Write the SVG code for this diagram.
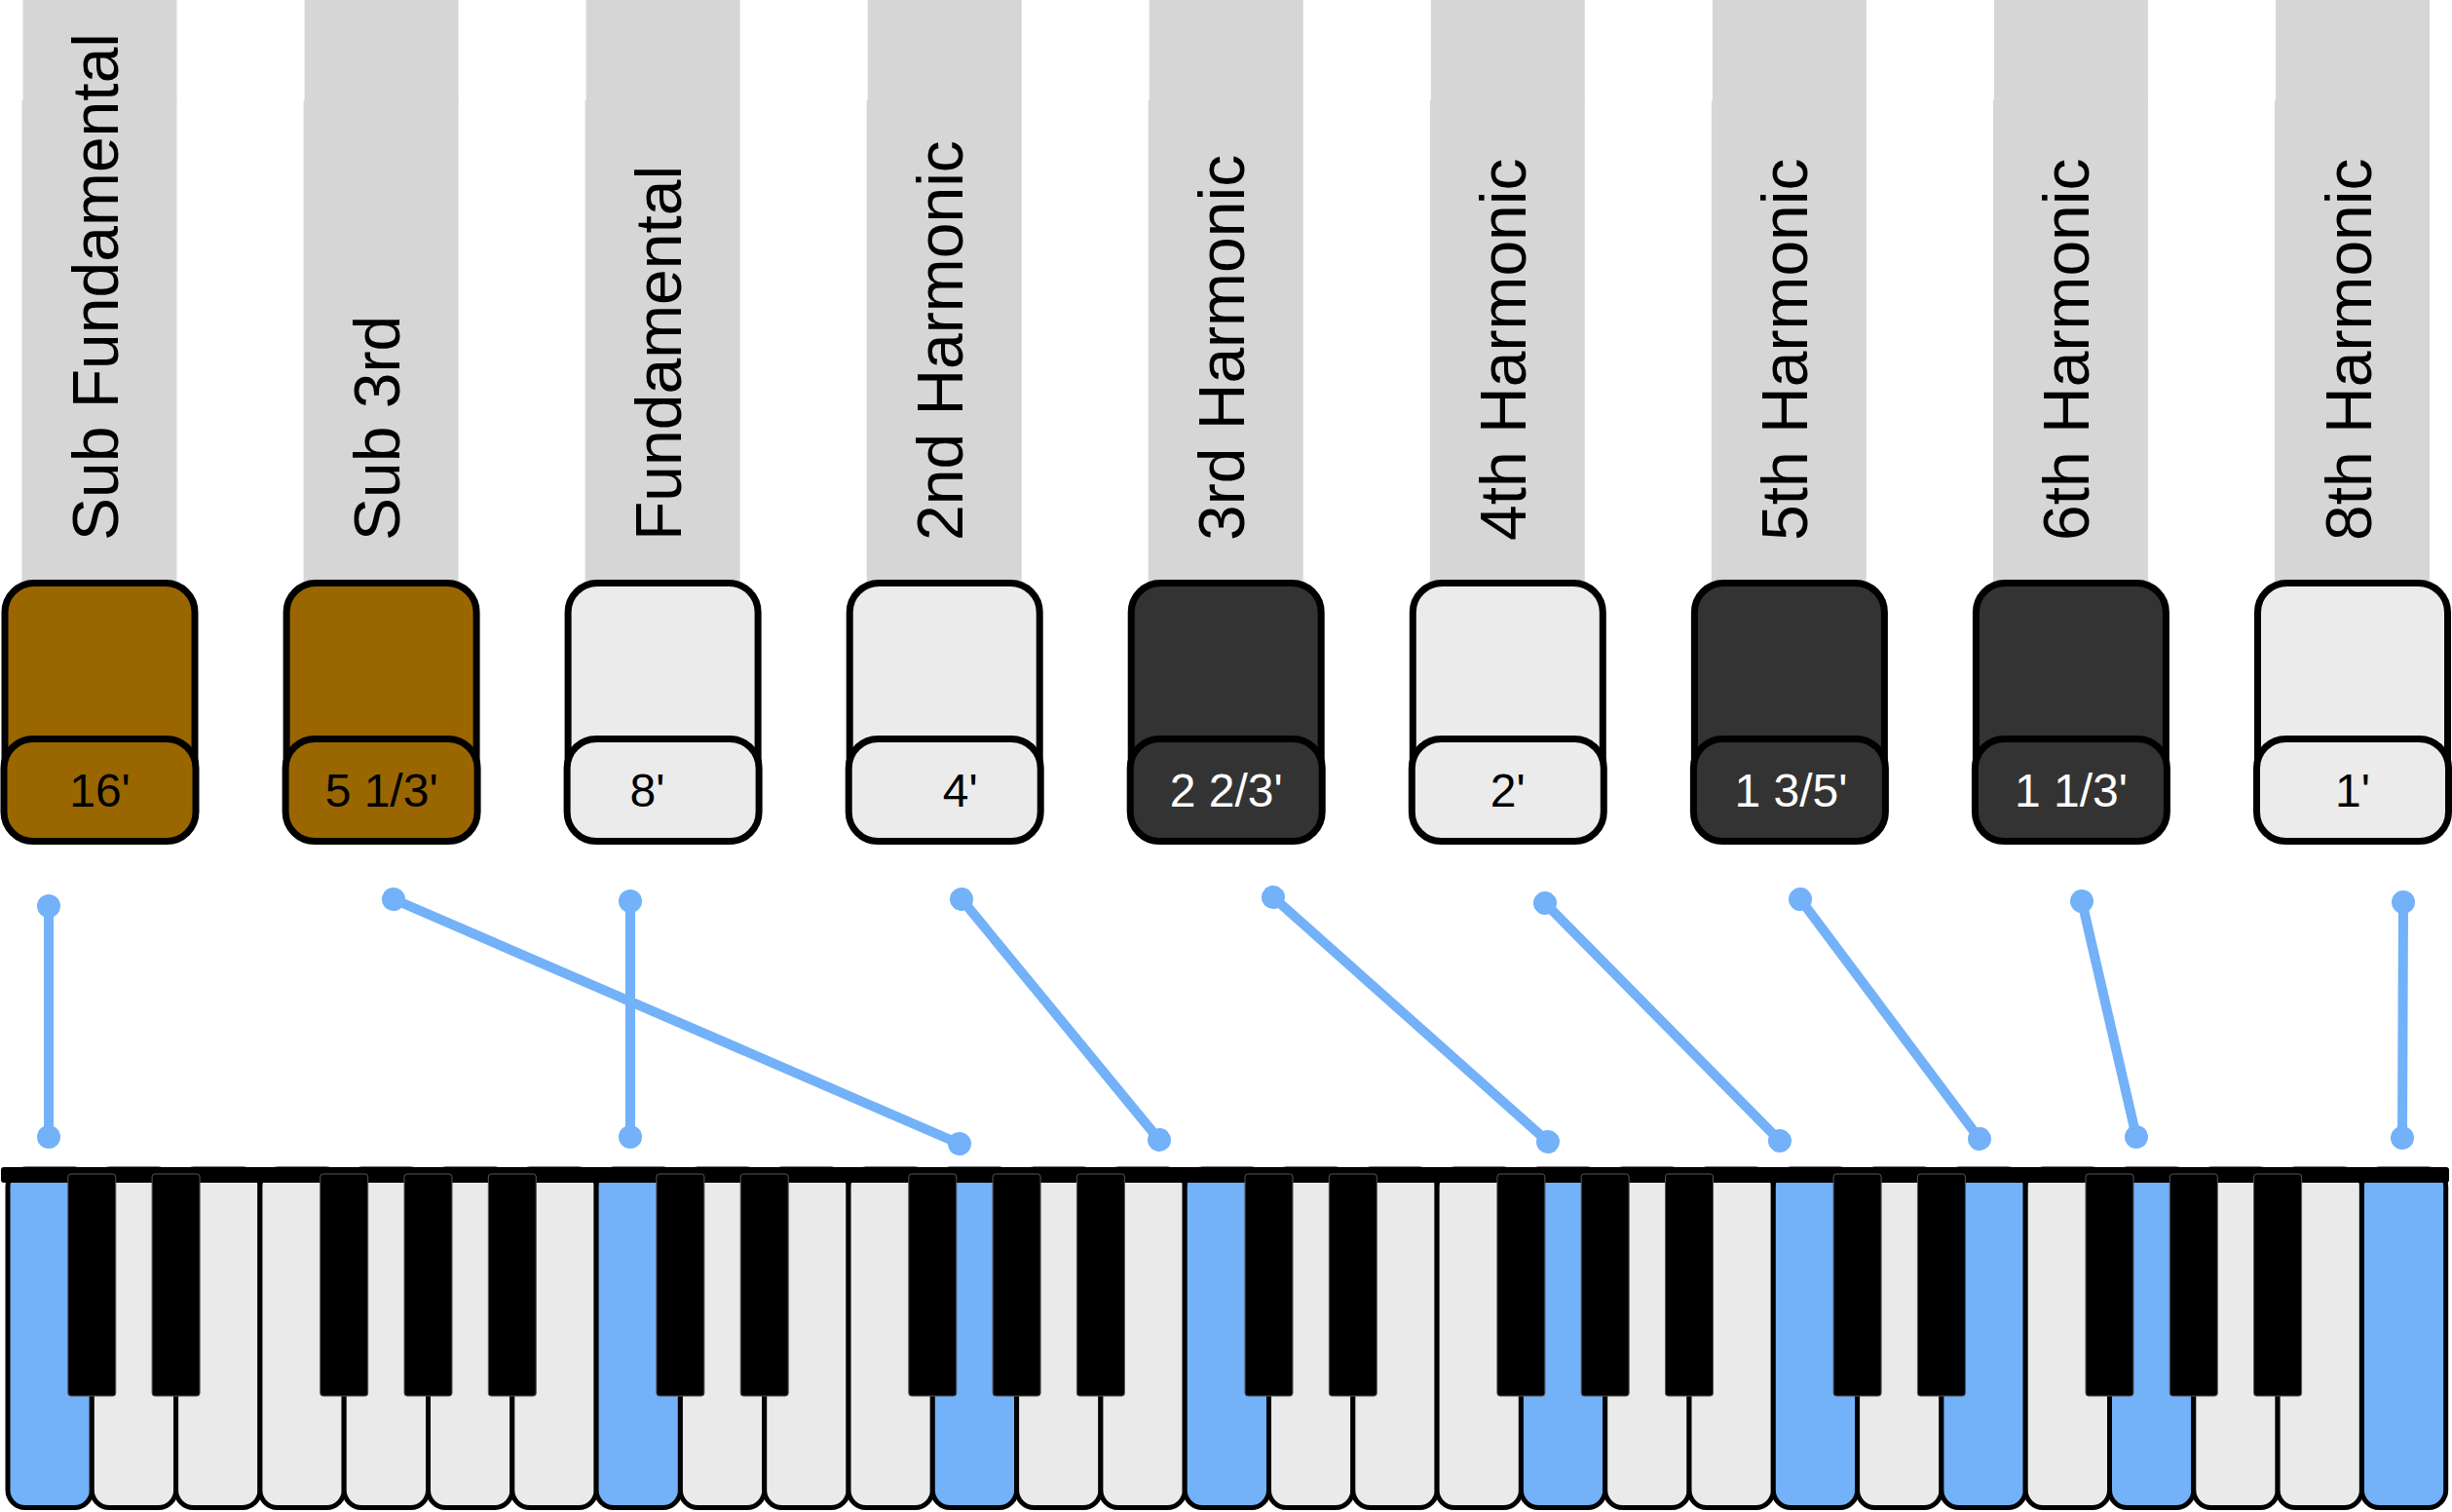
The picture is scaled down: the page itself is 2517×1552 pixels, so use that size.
<svg xmlns="http://www.w3.org/2000/svg" width="2517" height="1552" viewBox="0 0 2517 1552">
<defs>
<style>
.shaft{fill:#D6D6D6}
.box{stroke:#000;stroke-width:7}
.brown{fill:#996600}
.light{fill:#EBEBEB}
.dark{fill:#333333}
.name{font-family:"Liberation Sans",Arial,sans-serif;font-size:66px;fill:#000}
.val{font-family:"Liberation Sans",Arial,sans-serif;font-size:48px;text-anchor:middle;fill:#000}
.val.w{fill:#FFF}
.conn{stroke:#73B1F9;stroke-width:10;fill:none;marker-start:url(#dot);marker-end:url(#dot)}
.wk{stroke:#000;stroke-width:5;fill:#EAEAEA}
.wk.on{fill:#73B1F9}
.bk{fill:#000;stroke:#555;stroke-width:1}
</style>
<marker id="dot" viewBox="-12 -12 24 24" markerWidth="24" markerHeight="24" markerUnits="userSpaceOnUse" refX="0" refY="0" orient="auto">
<circle r="12" fill="#73B1F9"/>
</marker>
</defs>
<rect width="2517" height="1552" fill="#FFF"/>

<g id="drawbar-16">
<rect class="shaft" x="23.5" y="0" width="158" height="104"/>
<rect class="shaft" x="22.5" y="103" width="159" height="497"/>
<text class="name" transform="translate(121,555) rotate(-90)">Sub Fundamental</text>
<rect class="box brown" x="5" y="598.5" width="195" height="230" rx="30"/>
<rect class="box brown" x="4" y="758.5" width="197" height="105" rx="30"/>
<text class="val" x="102.5" y="828">16'</text>
</g>

<g id="drawbar-5-1-3">
<rect class="shaft" x="312.6" y="0" width="158" height="104"/>
<rect class="shaft" x="311.6" y="103" width="159" height="497"/>
<text class="name" transform="translate(410.1,555) rotate(-90)">Sub 3rd</text>
<rect class="box brown" x="294.1" y="598.5" width="195" height="230" rx="30"/>
<rect class="box brown" x="293.1" y="758.5" width="197" height="105" rx="30"/>
<text class="val" x="391.6" y="828">5 1/3'</text>
</g>

<g id="drawbar-8">
<rect class="shaft" x="601.6" y="0" width="158" height="104"/>
<rect class="shaft" x="600.6" y="103" width="159" height="497"/>
<text class="name" transform="translate(699.1,555) rotate(-90)">Fundamental</text>
<rect class="box light" x="583.1" y="598.5" width="195" height="230" rx="30"/>
<rect class="box light" x="582.1" y="758.5" width="197" height="105" rx="30"/>
<text class="val" x="664.5" y="828">8'</text>
</g>

<g id="drawbar-4">
<rect class="shaft" x="890.7" y="0" width="158" height="104"/>
<rect class="shaft" x="889.7" y="103" width="159" height="497"/>
<text class="name" transform="translate(988.2,555) rotate(-90)">2nd Harmonic</text>
<rect class="box light" x="872.2" y="598.5" width="195" height="230" rx="30"/>
<rect class="box light" x="871.2" y="758.5" width="197" height="105" rx="30"/>
<text class="val" x="985.7" y="828">4'</text>
</g>

<g id="drawbar-2-2-3">
<rect class="shaft" x="1179.7" y="0" width="158" height="104"/>
<rect class="shaft" x="1178.7" y="103" width="159" height="497"/>
<text class="name" transform="translate(1277.2,555) rotate(-90)">3rd Harmonic</text>
<rect class="box dark" x="1161.2" y="598.5" width="195" height="230" rx="30"/>
<rect class="box dark" x="1160.2" y="758.5" width="197" height="105" rx="30"/>
<text class="val w" x="1258.7" y="828">2 2/3'</text>
</g>

<g id="drawbar-2">
<rect class="shaft" x="1468.8" y="0" width="158" height="104"/>
<rect class="shaft" x="1467.8" y="103" width="159" height="497"/>
<text class="name" transform="translate(1566.3,555) rotate(-90)">4th Harmonic</text>
<rect class="box light" x="1450.3" y="598.5" width="195" height="230" rx="30"/>
<rect class="box light" x="1449.3" y="758.5" width="197" height="105" rx="30"/>
<text class="val" x="1547.8" y="828">2'</text>
</g>

<g id="drawbar-1-3-5">
<rect class="shaft" x="1757.9" y="0" width="158" height="104"/>
<rect class="shaft" x="1756.9" y="103" width="159" height="497"/>
<text class="name" transform="translate(1855.4,555) rotate(-90)">5th Harmonic</text>
<rect class="box dark" x="1739.4" y="598.5" width="195" height="230" rx="30"/>
<rect class="box dark" x="1738.4" y="758.5" width="197" height="105" rx="30"/>
<text class="val w" x="1838.5" y="828">1 3/5'</text>
</g>

<g id="drawbar-1-1-3">
<rect class="shaft" x="2046.9" y="0" width="158" height="104"/>
<rect class="shaft" x="2045.9" y="103" width="159" height="497"/>
<text class="name" transform="translate(2144.4,555) rotate(-90)">6th Harmonic</text>
<rect class="box dark" x="2028.4" y="598.5" width="195" height="230" rx="30"/>
<rect class="box dark" x="2027.4" y="758.5" width="197" height="105" rx="30"/>
<text class="val w" x="2125.9" y="828">1 1/3'</text>
</g>

<g id="drawbar-1">
<rect class="shaft" x="2336" y="0" width="158" height="104"/>
<rect class="shaft" x="2335" y="103" width="159" height="497"/>
<text class="name" transform="translate(2433.5,555) rotate(-90)">8th Harmonic</text>
<rect class="box light" x="2317.5" y="598.5" width="195" height="230" rx="30"/>
<rect class="box light" x="2316.5" y="758.5" width="197" height="105" rx="30"/>
<text class="val" x="2415" y="828">1'</text>
</g>

<g id="connectors">
<line class="conn" x1="50" y1="930" x2="50" y2="1167"/>
<line class="conn" x1="404" y1="923" x2="985" y2="1174"/>
<line class="conn" x1="647" y1="925" x2="647" y2="1167"/>
<line class="conn" x1="987" y1="923" x2="1190" y2="1170"/>
<line class="conn" x1="1307" y1="921" x2="1589" y2="1172"/>
<line class="conn" x1="1586" y1="927" x2="1827" y2="1171"/>
<line class="conn" x1="1848" y1="923" x2="2032" y2="1169"/>
<line class="conn" x1="2137" y1="925" x2="2193" y2="1167"/>
<line class="conn" x1="2467" y1="926" x2="2466" y2="1168"/>
</g>

<g id="keyboard">
<g id="white-keys">
<rect class="wk on" x="8" y="1200" width="86.3" height="347.5" rx="18"/>
<rect class="wk" x="94.3" y="1200" width="86.3" height="347.5" rx="18"/>
<rect class="wk" x="180.6" y="1200" width="86.3" height="347.5" rx="18"/>
<rect class="wk" x="266.9" y="1200" width="86.3" height="347.5" rx="18"/>
<rect class="wk" x="353.2" y="1200" width="86.3" height="347.5" rx="18"/>
<rect class="wk" x="439.5" y="1200" width="86.3" height="347.5" rx="18"/>
<rect class="wk" x="525.8" y="1200" width="86.3" height="347.5" rx="18"/>
<rect class="wk on" x="612.1" y="1200" width="86.3" height="347.5" rx="18"/>
<rect class="wk" x="698.4" y="1200" width="86.3" height="347.5" rx="18"/>
<rect class="wk" x="784.7" y="1200" width="86.3" height="347.5" rx="18"/>
<rect class="wk" x="871" y="1200" width="86.3" height="347.5" rx="18"/>
<rect class="wk on" x="957.3" y="1200" width="86.3" height="347.5" rx="18"/>
<rect class="wk" x="1043.6" y="1200" width="86.3" height="347.5" rx="18"/>
<rect class="wk" x="1129.9" y="1200" width="86.3" height="347.5" rx="18"/>
<rect class="wk on" x="1216.2" y="1200" width="86.3" height="347.5" rx="18"/>
<rect class="wk" x="1302.5" y="1200" width="86.3" height="347.5" rx="18"/>
<rect class="wk" x="1388.8" y="1200" width="86.3" height="347.5" rx="18"/>
<rect class="wk" x="1475.1" y="1200" width="86.3" height="347.5" rx="18"/>
<rect class="wk on" x="1561.4" y="1200" width="86.3" height="347.5" rx="18"/>
<rect class="wk" x="1647.7" y="1200" width="86.3" height="347.5" rx="18"/>
<rect class="wk" x="1734" y="1200" width="86.3" height="347.5" rx="18"/>
<rect class="wk on" x="1820.3" y="1200" width="86.3" height="347.5" rx="18"/>
<rect class="wk" x="1906.6" y="1200" width="86.3" height="347.5" rx="18"/>
<rect class="wk on" x="1992.9" y="1200" width="86.3" height="347.5" rx="18"/>
<rect class="wk" x="2079.2" y="1200" width="86.3" height="347.5" rx="18"/>
<rect class="wk on" x="2165.5" y="1200" width="86.3" height="347.5" rx="18"/>
<rect class="wk" x="2251.8" y="1200" width="86.3" height="347.5" rx="18"/>
<rect class="wk" x="2338.1" y="1200" width="86.3" height="347.5" rx="18"/>
<rect class="wk on" x="2424.4" y="1200" width="86.3" height="347.5" rx="18"/>
</g>
<rect x="1" y="1198" width="2513" height="16" rx="3" fill="#000"/>
<g id="black-keys">
<rect class="bk" x="69.8" y="1205" width="49" height="228" rx="3"/>
<rect class="bk" x="156.1" y="1205" width="49" height="228" rx="3"/>
<rect class="bk" x="328.7" y="1205" width="49" height="228" rx="3"/>
<rect class="bk" x="415" y="1205" width="49" height="228" rx="3"/>
<rect class="bk" x="501.3" y="1205" width="49" height="228" rx="3"/>
<rect class="bk" x="673.9" y="1205" width="49" height="228" rx="3"/>
<rect class="bk" x="760.2" y="1205" width="49" height="228" rx="3"/>
<rect class="bk" x="932.8" y="1205" width="49" height="228" rx="3"/>
<rect class="bk" x="1019.1" y="1205" width="49" height="228" rx="3"/>
<rect class="bk" x="1105.4" y="1205" width="49" height="228" rx="3"/>
<rect class="bk" x="1278" y="1205" width="49" height="228" rx="3"/>
<rect class="bk" x="1364.3" y="1205" width="49" height="228" rx="3"/>
<rect class="bk" x="1536.9" y="1205" width="49" height="228" rx="3"/>
<rect class="bk" x="1623.2" y="1205" width="49" height="228" rx="3"/>
<rect class="bk" x="1709.5" y="1205" width="49" height="228" rx="3"/>
<rect class="bk" x="1882.1" y="1205" width="49" height="228" rx="3"/>
<rect class="bk" x="1968.4" y="1205" width="49" height="228" rx="3"/>
<rect class="bk" x="2141" y="1205" width="49" height="228" rx="3"/>
<rect class="bk" x="2227.3" y="1205" width="49" height="228" rx="3"/>
<rect class="bk" x="2313.6" y="1205" width="49" height="228" rx="3"/>
</g>
</g>
</svg>
